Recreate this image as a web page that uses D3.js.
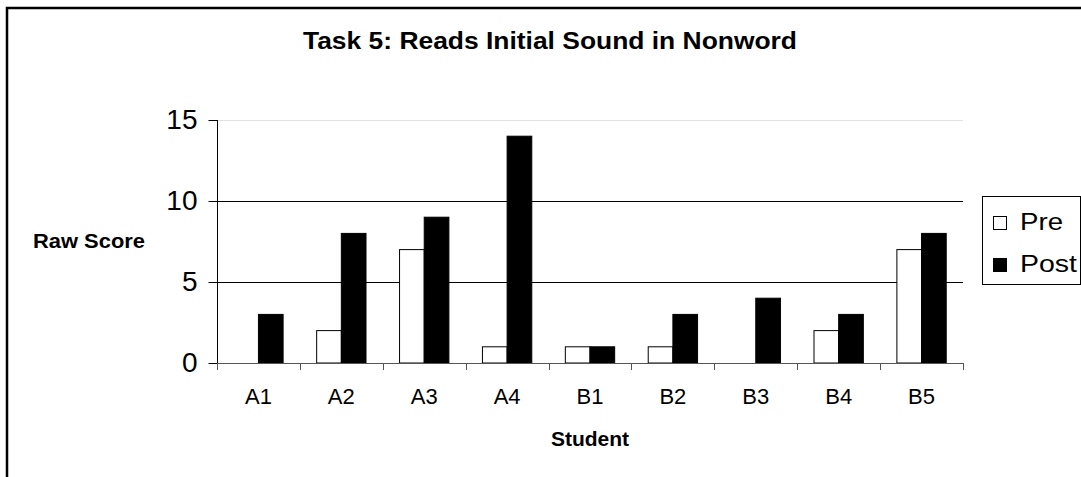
<!DOCTYPE html>
<html>
<head>
<meta charset="utf-8">
<script src="https://cdn.jsdelivr.net/npm/d3@7"></script>
<style>
  body { margin: 0; background: #fff; }
  text { font-family: "Liberation Sans", Arial, sans-serif; fill: #000; }
</style>
</head>
<body>
<div id="chart"></div>
<script>
// data
var students = ["A1", "A2", "A3", "A4", "B1", "B2", "B3", "B4", "B5"];
var preScores = [0, 2, 7, 1, 1, 1, 0, 2, 7];
var postScores = [3, 8, 9, 14, 1, 3, 4, 3, 8];
var seriesNames = ["Pre", "Post"];
var seriesFill = ["#fff", "#000"];
var yTicks = [0, 5, 10, 15];

var W = 1081, H = 477;
var plot = {left: 217, right: 963, top: 120, bottom: 363};

var svg = d3.select("#chart").append("svg")
    .attr("width", W)
    .attr("height", H);

// outer chart border (runs off right/bottom like the reference)
svg.append("rect")
    .attr("x", 7).attr("y", 8)
    .attr("width", 1100).attr("height", 500)
    .attr("fill", "none")
    .attr("stroke", "#000")
    .attr("stroke-width", 2.5);

// scales
var x = d3.scaleBand().domain(students).range([plot.left, plot.right]).padding(0);
var xs = d3.scaleBand().domain(seriesNames).range([0, x.bandwidth()])
    .paddingInner(0).paddingOuter(0.68);
var y = d3.scaleLinear().domain([0, 15]).range([plot.bottom, plot.top]);

// gridlines
svg.append("g").selectAll("line")
    .data(yTicks.filter(function(d) { return d > 0; }))
    .enter().append("line")
    .attr("x1", plot.left).attr("x2", plot.right)
    .attr("y1", function(d) { return Math.round(y(d)) + 0.5; })
    .attr("y2", function(d) { return Math.round(y(d)) + 0.5; })
    .attr("stroke", function(d) { return d === 15 ? "#e2e2e2" : "#000"; })
    .attr("stroke-width", 1);

// bars
var rows = students.map(function(s, i) {
    return {student: s, values: [preScores[i], postScores[i]]};
});
var groups = svg.append("g").selectAll("g")
    .data(rows)
    .enter().append("g")
    .attr("transform", function(d) { return "translate(" + x(d.student) + ",0)"; });

groups.selectAll("rect")
    .data(function(d) {
        return d.values.map(function(v, j) { return {name: seriesNames[j], value: v, j: j}; });
    })
    .enter().append("rect")
    .filter(function(d) { return d.value > 0; })
    .attr("x", function(d) { return xs(d.name); })
    .attr("y", function(d) { return y(d.value); })
    .attr("width", xs.bandwidth())
    .attr("height", function(d) { return y(0) - y(d.value); })
    .attr("fill", function(d) { return seriesFill[d.j]; })
    .attr("stroke", "#000")
    .attr("stroke-width", 1);

// y axis
var yAxis = d3.axisLeft(y).tickValues(yTicks).tickSize(9).tickPadding(11);
var gy = svg.append("g")
    .attr("transform", "translate(" + (plot.left + 0.5) + ",0)")
    .call(yAxis);
gy.select(".domain").attr("stroke", "#000").attr("d", "M0," + plot.top + "V" + plot.bottom);
gy.selectAll(".tick line").attr("stroke", "#000");
gy.selectAll(".tick text")
    .style("font-family", "'Liberation Sans', Arial, sans-serif")
    .style("font-size", "28px")
    .attr("fill", "#000");

// x axis: line plus ticks at the category boundaries
var gx = svg.append("g");
gx.append("line")
    .attr("x1", plot.left).attr("x2", plot.right)
    .attr("y1", plot.bottom + 0.5).attr("y2", plot.bottom + 0.5)
    .attr("stroke", "#555");
var bounds = students.map(function(s) { return x(s); }).concat([plot.right]);
gx.selectAll(".xt")
    .data(bounds)
    .enter().append("line")
    .attr("class", "xt")
    .attr("x1", function(d) { return Math.round(d) + 0.5; })
    .attr("x2", function(d) { return Math.round(d) + 0.5; })
    .attr("y1", plot.bottom)
    .attr("y2", plot.bottom + 7)
    .attr("stroke", "#555");
gx.selectAll(".xl")
    .data(students)
    .enter().append("text")
    .attr("class", "xl")
    .attr("x", function(d) { return x(d) + x.bandwidth() / 2; })
    .attr("y", 404)
    .attr("text-anchor", "middle")
    .style("font-size", "22px")
    .text(function(d) { return d; });

// titles
svg.append("text")
    .attr("x", 303).attr("y", 49)
    .attr("textLength", 494)
    .attr("lengthAdjust", "spacingAndGlyphs")
    .style("font-size", "23px")
    .style("font-weight", "bold")
    .text("Task 5: Reads Initial Sound in Nonword");

svg.append("text")
    .attr("x", 33).attr("y", 248)
    .attr("textLength", 112)
    .attr("lengthAdjust", "spacingAndGlyphs")
    .style("font-size", "21px")
    .style("font-weight", "bold")
    .text("Raw Score");

svg.append("text")
    .attr("x", (plot.left + plot.right) / 2).attr("y", 446)
    .attr("text-anchor", "middle")
    .style("font-size", "21px")
    .style("font-weight", "bold")
    .text("Student");

// legend
var legend = svg.append("g");
legend.append("rect")
    .attr("x", 982.5).attr("y", 196.5)
    .attr("width", 98).attr("height", 88)
    .attr("fill", "#fff")
    .attr("stroke", "#000");
var items = legend.selectAll(".li")
    .data(seriesNames)
    .enter().append("g")
    .attr("class", "li")
    .attr("transform", function(d, i) { return "translate(0," + (230 + i * 42) + ")"; });
items.append("rect")
    .attr("x", 993.5).attr("y", -13.5)
    .attr("width", 13).attr("height", 13)
    .attr("fill", function(d, i) { return seriesFill[i]; })
    .attr("stroke", "#000");
items.append("text")
    .attr("x", 1020).attr("y", 0)
    .attr("textLength", function(d) { return d === "Pre" ? 43 : 57; })
    .attr("lengthAdjust", "spacingAndGlyphs")
    .style("font-size", "23px")
    .text(function(d) { return d; });
</script>
</body>
</html>
